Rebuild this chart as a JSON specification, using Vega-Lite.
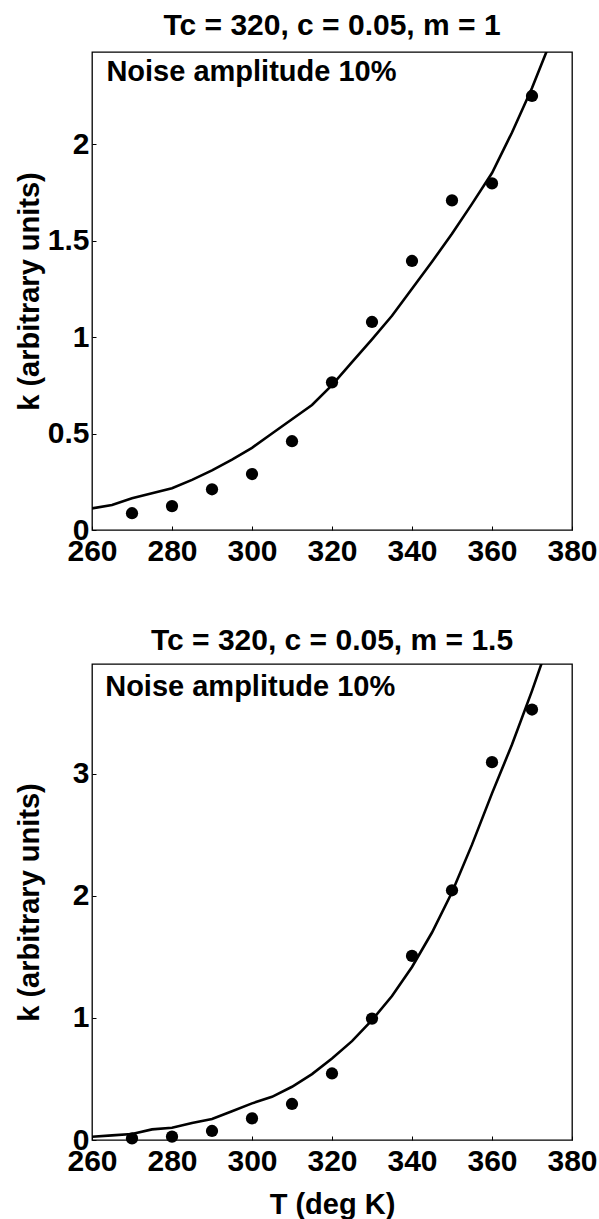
{
  "$schema": "https://vega.github.io/schema/vega-lite/v6.json",
  "background": "white",
  "padding": {"left": 14, "top": 10, "right": 5, "bottom": 2},
  "spacing": 58,
  "config": {
    "font": "Liberation Sans",
    "view": {"stroke": "black", "strokeWidth": 1.3},
    "axis": {
      "grid": false,
      "domain": false,
      "ticks": true,
      "tickColor": "black",
      "tickSize": -4,
      "labelFont": "Liberation Sans",
      "labelFontSize": 30,
      "labelFontWeight": "bold",
      "labelColor": "black",
      "titleFont": "Liberation Sans",
      "titleFontSize": 29,
      "titleFontWeight": "bold",
      "titleColor": "black",
      "labelFlush": false,
      "labelOverlap": false
    },
    "title": {"font": "Liberation Sans", "fontSize": 30, "fontWeight": "bold", "color": "black"}
  },
  "datasets": {
    "line1": [
      {"T": 260, "k": 0.112}, {"T": 265, "k": 0.13}, {"T": 270, "k": 0.165}, {"T": 275, "k": 0.19},
      {"T": 280, "k": 0.216}, {"T": 285, "k": 0.26}, {"T": 290, "k": 0.309}, {"T": 295, "k": 0.365},
      {"T": 300, "k": 0.426}, {"T": 305, "k": 0.5}, {"T": 310, "k": 0.574}, {"T": 315, "k": 0.648},
      {"T": 320, "k": 0.751}, {"T": 325, "k": 0.87}, {"T": 330, "k": 0.988}, {"T": 335, "k": 1.11},
      {"T": 340, "k": 1.25}, {"T": 345, "k": 1.39}, {"T": 350, "k": 1.535}, {"T": 355, "k": 1.69},
      {"T": 360, "k": 1.85}, {"T": 365, "k": 2.06}, {"T": 370, "k": 2.29}, {"T": 375, "k": 2.55}
    ],
    "pts1": [
      {"T": 270, "k": 0.087}, {"T": 280, "k": 0.124}, {"T": 290, "k": 0.211}, {"T": 300, "k": 0.29},
      {"T": 310, "k": 0.46}, {"T": 320, "k": 0.765}, {"T": 330, "k": 1.078}, {"T": 340, "k": 1.394},
      {"T": 350, "k": 1.708}, {"T": 360, "k": 1.796}, {"T": 370, "k": 2.249}
    ],
    "line2": [
      {"T": 260, "k": 0.027}, {"T": 265, "k": 0.038}, {"T": 270, "k": 0.049}, {"T": 275, "k": 0.087},
      {"T": 280, "k": 0.1}, {"T": 285, "k": 0.14}, {"T": 290, "k": 0.172}, {"T": 295, "k": 0.235},
      {"T": 300, "k": 0.3}, {"T": 305, "k": 0.354}, {"T": 310, "k": 0.436}, {"T": 315, "k": 0.54},
      {"T": 320, "k": 0.668}, {"T": 325, "k": 0.81}, {"T": 330, "k": 0.982}, {"T": 335, "k": 1.18},
      {"T": 340, "k": 1.418}, {"T": 345, "k": 1.7}, {"T": 350, "k": 2.03}, {"T": 355, "k": 2.42},
      {"T": 360, "k": 2.84}, {"T": 365, "k": 3.24}, {"T": 370, "k": 3.68}, {"T": 375, "k": 4.15}
    ],
    "pts2": [
      {"T": 270, "k": 0.013}, {"T": 280, "k": 0.027}, {"T": 290, "k": 0.074}, {"T": 300, "k": 0.177},
      {"T": 310, "k": 0.295}, {"T": 320, "k": 0.545}, {"T": 330, "k": 0.995}, {"T": 340, "k": 1.508},
      {"T": 350, "k": 2.046}, {"T": 360, "k": 3.096}, {"T": 370, "k": 3.527}
    ]
  },
  "vconcat": [
    {
      "width": 480,
      "height": 478,
      "title": {"text": "Tc = 320, c = 0.05, m = 1", "offset": 11},
      "layer": [
        {
          "data": {"name": "line1"},
          "mark": {"type": "line", "color": "black", "strokeWidth": 2.6, "clip": true},
          "encoding": {
            "x": {"field": "T", "type": "quantitative", "scale": {"domain": [260, 380], "nice": false, "zero": false},
                  "axis": {"values": [260, 280, 300, 320, 340, 360, 380], "title": null, "labelPadding": 10}},
            "y": {"field": "k", "type": "quantitative", "scale": {"domain": [0, 2.477], "nice": false},
                  "axis": {"values": [0, 0.5, 1, 1.5, 2], "format": "~g", "title": "k (arbitrary units)", "labelPadding": 7, "titleX": -54, "titleBaseline": "alphabetic"}}
          }
        },
        {
          "data": {"name": "pts1"},
          "mark": {"type": "circle", "color": "black", "opacity": 1, "size": 150},
          "encoding": {
            "x": {"field": "T", "type": "quantitative"},
            "y": {"field": "k", "type": "quantitative"}
          }
        },
        {
          "data": {"values": [{"label": "Noise amplitude 10%"}]},
          "mark": {"type": "text", "align": "left", "baseline": "alphabetic", "font": "Liberation Sans", "fontSize": 29, "fontWeight": "bold", "color": "black"},
          "encoding": {
            "x": {"datum": 263.6},
            "y": {"datum": 2.326},
            "text": {"field": "label"}
          }
        }
      ]
    },
    {
      "width": 480,
      "height": 476,
      "title": {"text": "Tc = 320, c = 0.05, m = 1.5", "offset": 8},
      "layer": [
        {
          "data": {"name": "line2"},
          "mark": {"type": "line", "color": "black", "strokeWidth": 2.6, "clip": true},
          "encoding": {
            "x": {"field": "T", "type": "quantitative", "scale": {"domain": [260, 380], "nice": false, "zero": false},
                  "axis": {"values": [260, 280, 300, 320, 340, 360, 380], "title": "T (deg K)", "labelPadding": 10, "titlePadding": 14}},
            "y": {"field": "k", "type": "quantitative", "scale": {"domain": [0, 3.9], "nice": false},
                  "axis": {"values": [0, 1, 2, 3], "format": "~g", "title": "k (arbitrary units)", "labelPadding": 7, "titleX": -54, "titleBaseline": "alphabetic"}}
          }
        },
        {
          "data": {"name": "pts2"},
          "mark": {"type": "circle", "color": "black", "opacity": 1, "size": 150},
          "encoding": {
            "x": {"field": "T", "type": "quantitative"},
            "y": {"field": "k", "type": "quantitative"}
          }
        },
        {
          "data": {"values": [{"label": "Noise amplitude 10%"}]},
          "mark": {"type": "text", "align": "left", "baseline": "alphabetic", "font": "Liberation Sans", "fontSize": 29, "fontWeight": "bold", "color": "black"},
          "encoding": {
            "x": {"datum": 263.3},
            "y": {"datum": 3.64},
            "text": {"field": "label"}
          }
        }
      ]
    }
  ]
}
